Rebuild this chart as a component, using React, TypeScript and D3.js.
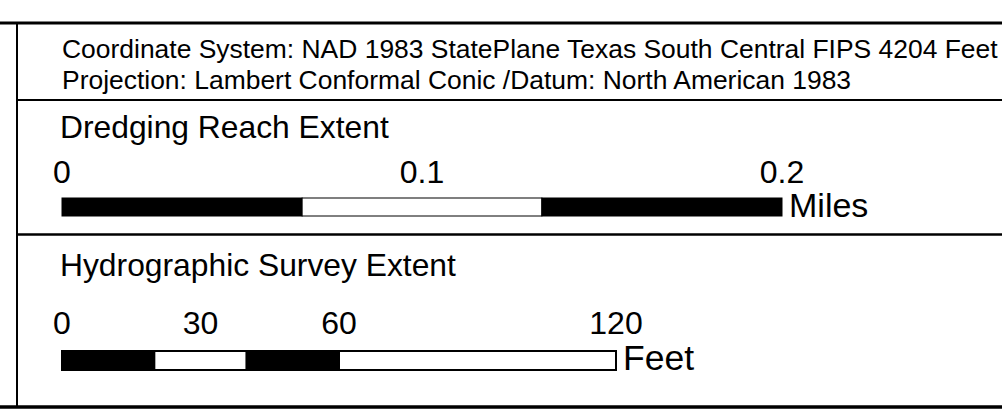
import * as d3 from "d3";
import { useEffect, useRef } from "react";

// legend text
const coordLines = [
  "Coordinate System: NAD 1983 StatePlane Texas South Central FIPS 4204 Feet",
  "Projection: Lambert Conformal Conic /Datum: North American 1983",
];
const sectionTitles = ["Dredging Reach Extent", "Hydrographic Survey Extent"];

// miles scale bar
const milesUnit = "Miles";
const milesTicks = [0, 0.1, 0.2];
const milesTickLabels = ["0", "0.1", "0.2"];
const milesBreaks = [0, 0.0667, 0.1333, 0.2];

// feet scale bar
const feetUnit = "Feet";
const feetTicks = [0, 30, 60, 120];
const feetTickLabels = ["0", "30", "60", "120"];
const feetBreaks = [0, 20, 40, 60, 120];

const W = 1002;
const H = 416;
const FONT = "'Liberation Sans', Arial, Helvetica, sans-serif";

export default function App() {
  const svgRef = useRef<SVGSVGElement>(null);

  useEffect(() => {
    const svg = d3.select(svgRef.current);
    svg.selectAll("*").remove();

    svg.append("rect").attr("width", W).attr("height", H).attr("fill", "#fff");

    // frame
    const frame = svg.append("g").attr("stroke", "#000").attr("fill", "none");
    frame.append("line").attr("x1", 0).attr("x2", W).attr("y1", 23).attr("y2", 23).attr("stroke-width", 3);
    frame.append("line").attr("x1", 0).attr("x2", W).attr("y1", 407).attr("y2", 407).attr("stroke-width", 3.5);
    frame.append("line").attr("x1", 17).attr("x2", 17).attr("y1", 23).attr("y2", 407).attr("stroke-width", 2);
    frame.append("line").attr("x1", 17).attr("x2", W).attr("y1", 100).attr("y2", 100).attr("stroke-width", 2);
    frame.append("line").attr("x1", 17).attr("x2", W).attr("y1", 234.5).attr("y2", 234.5).attr("stroke-width", 2.5);

    // coordinate system text
    svg.append("g")
      .selectAll("text")
      .data(coordLines)
      .join("text")
      .attr("x", 62)
      .attr("y", (_, i) => 58 + i * 31)
      .attr("font-family", FONT)
      .attr("font-size", 26.45)
      .attr("fill", "#000")
      .text((d) => d);

    svg.append("g")
      .selectAll("text")
      .data(sectionTitles)
      .join("text")
      .attr("x", 60)
      .attr("y", (_, i) => (i === 0 ? 138 : 276))
      .attr("font-family", FONT)
      .attr("font-size", 31.8)
      .attr("fill", "#000")
      .text((d) => d);

    function scaleBar(
      scale: d3.ScaleLinear<number, number>,
      breaks: number[],
      ticks: number[],
      labels: string[],
      unit: string,
      labelY: number,
      barY: number,
      barH: number,
      unitY: number,
      strokeW: number,
      unitSize: number
    ) {
      const g = svg.append("g");
      const segs = d3.pairs(breaks);
      g.selectAll("rect")
        .data(segs)
        .join("rect")
        .attr("x", (d) => scale(d[0]))
        .attr("y", barY)
        .attr("width", (d) => scale(d[1]) - scale(d[0]))
        .attr("height", barH)
        .attr("fill", (_, i) => (i % 2 === 0 ? "#000" : "#fff"))
        .attr("stroke", "#000")
        .attr("stroke-width", strokeW);
      g.selectAll("text.tick")
        .data(ticks)
        .join("text")
        .attr("class", "tick")
        .attr("x", (d) => scale(d))
        .attr("y", labelY)
        .attr("text-anchor", "middle")
        .attr("font-family", FONT)
        .attr("font-size", 32)
        .attr("fill", "#000")
        .text((_, i) => labels[i]);
      g.append("text")
        .attr("x", scale(breaks[breaks.length - 1]) + 7)
        .attr("y", unitY)
        .attr("font-family", FONT)
        .attr("font-size", unitSize)
        .attr("fill", "#000")
        .text(unit);
    }

    const xMiles = d3.scaleLinear().domain([0, 0.2]).range([62, 782]);
    scaleBar(xMiles, milesBreaks, milesTicks, milesTickLabels, milesUnit, 183, 198, 18, 217, 1, 34);

    const xFeet = d3.scaleLinear().domain([0, 120]).range([62, 616]);
    scaleBar(xFeet, feetBreaks, feetTicks, feetTickLabels, feetUnit, 334, 351, 19, 370, 2, 35.5);
  }, []);

  return (
    <svg
      ref={svgRef}
      width={W}
      height={H}
      style={{ position: "absolute", left: 0, top: 0, display: "block" }}
    />
  );
}
